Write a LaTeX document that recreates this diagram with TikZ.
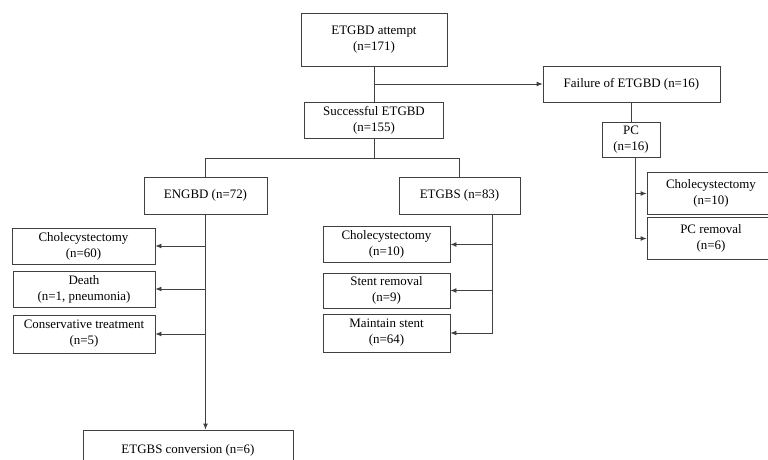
\documentclass[tikz,border=0pt]{standalone}
\usepackage{fontspec}
\setmainfont{Liberation Serif}
\usetikzlibrary{arrows.meta}
\usetikzlibrary{positioning}

\begin{document}
\begin{tikzpicture}[x=0.75pt,y=-0.75pt,font=\fontsize{9.7}{12}\selectfont,
                block/.style={rectangle, draw=black!75, line width=0.6pt, align=center, inner sep=1pt, fill=white},
                link/.style={draw=black!75, line width=0.6pt},
                arrow/.style={link, -{Latex[length=4.5pt,width=3.6pt]}}
            ]
            \clip (0,0) rectangle (768,460);
            % top
            \node[block, minimum width=109.5pt, minimum height=39.75pt](attempt) at (374,39.5) {ETGBD attempt\\(n=171)};
            \node[block, minimum width=104.25pt, minimum height=27pt](success) at (374,120) {Successful ETGBD\\(n=155)};
            \node[block, minimum width=132.75pt, minimum height=27pt](failure) at (631.5,84) {Failure of ETGBD (n=16)};
            \node[block, minimum width=43.5pt, minimum height=26.25pt](pc) at (631,139.5) {PC\\(n=16)};
            \node[block, minimum width=96pt, minimum height=31pt](pcchol) at (711,193.5) {Cholecystectomy\\(n=10)};
            \node[block, minimum width=96pt, minimum height=31pt](pcremoval) at (711,238.5) {PC removal\\(n=6)};
            % second level
            \node[block, minimum width=92.25pt, minimum height=27.75pt](engbd) at (205.5,195.5) {ENGBD (n=72)};
            \node[block, minimum width=90.75pt, minimum height=27.75pt](etgbs) at (459.5,195.5) {ETGBS (n=83)};
            % ENGBD outcomes
            \node[block, minimum width=107.25pt, minimum height=27pt](nchol) at (83.5,246) {Cholecystectomy\\(n=60)};
            \node[block, minimum width=106.5pt, minimum height=27pt](death) at (84,289) {Death\\(n=1, pneumonia)};
            \node[block, minimum width=106.5pt, minimum height=28.5pt](conserv) at (84,334) {Conservative treatment\\(n=5)};
            \node[block, minimum width=157.5pt, minimum height=30pt](conversion) at (188,450) {ETGBS conversion (n=6)};
            % ETGBS outcomes
            \node[block, minimum width=95.25pt, minimum height=27pt](schol) at (386.5,244.5) {Cholecystectomy\\(n=10)};
            \node[block, minimum width=95.25pt, minimum height=26.25pt](sremoval) at (386.5,290.5) {Stent removal\\(n=9)};
            \node[block, minimum width=95.25pt, minimum height=28.5pt](smaintain) at (386.5,333) {Maintain stent\\(n=64)};

            % connectors
            \coordinate (fork) at (attempt.south |- failure.west);
            \path[link] (attempt.south) -- (success.north);
            \path[arrow] (fork) -- (failure.west);
            \path[link] (failure.south -| pc.north) -- (pc.north);
            \coordinate (pcdown) at ([xshift=3pt]pc.south);
            \path[link] (pcdown) -- (pcdown |- pcremoval.west);
            \path[arrow] (pcdown |- pcchol.west) -- (pcchol.west);
            \path[arrow] (pcdown |- pcremoval.west) -- (pcremoval.west);

            \coordinate (split) at ([yshift=-15pt]success.south);
            \path[link] (success.south) -- (split);
            \path[link] (engbd.north) |- (split) -| (etgbs.north);

            \path[arrow] (engbd.south) -- (engbd.south |- conversion.north);
            \foreach \n in {nchol,death,conserv}
                \path[arrow] (engbd.south |- \n.east) -- (\n.east);

            \coordinate (etgbsdown) at ([xshift=25pt]etgbs.south);
            \path[link] (etgbsdown) -- (etgbsdown |- smaintain.east);
            \foreach \n in {schol,sremoval,smaintain}
                \path[arrow] (etgbsdown |- \n.east) -- (\n.east);
        \end{tikzpicture}
\end{document}
